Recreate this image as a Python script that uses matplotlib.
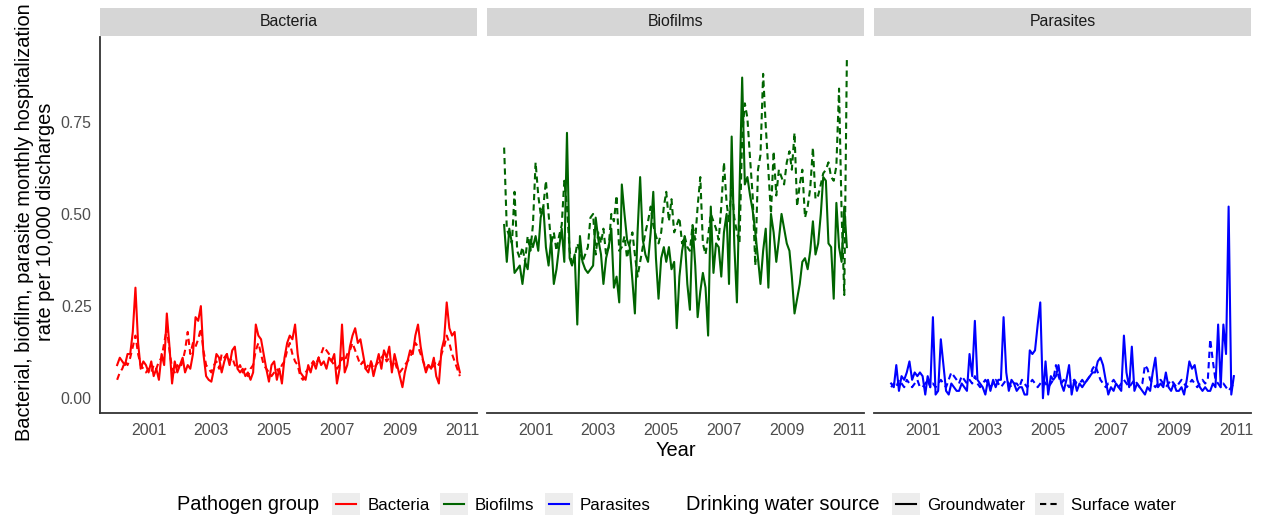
import numpy as np
import pandas as pd
import matplotlib
matplotlib.use("Agg")
from matplotlib import pyplot as plt
import matplotlib.dates as mdates
from matplotlib.lines import Line2D
from matplotlib.patches import Rectangle
from matplotlib.legend_handler import HandlerBase

plt.rcParams['font.family'] = ['Liberation Sans', 'DejaVu Sans']

# monthly rates, Jan 2000 .. Dec 2010 (one row per year)
bacteria_ground = [
    0.09, 0.11, 0.10, 0.09, 0.12, 0.12, 0.18, 0.30, 0.15, 0.08, 0.10, 0.09,
    0.07, 0.10, 0.06, 0.08, 0.05, 0.12, 0.09, 0.23, 0.14, 0.04, 0.10, 0.07,
    0.09, 0.11, 0.07, 0.09, 0.08, 0.12, 0.22, 0.21, 0.25, 0.12, 0.06, 0.05,
    0.045, 0.08, 0.12, 0.11, 0.07, 0.10, 0.12, 0.09, 0.13, 0.14, 0.08, 0.07,
    0.08, 0.06, 0.07, 0.05, 0.07, 0.20, 0.17, 0.16, 0.12, 0.08, 0.045, 0.09,
    0.10, 0.05, 0.08, 0.04, 0.11, 0.15, 0.17, 0.16, 0.20, 0.12, 0.07, 0.06,
    0.05, 0.09, 0.07, 0.10, 0.08, 0.11, 0.09, 0.10, 0.08, 0.11, 0.10, 0.12,
    0.04, 0.08, 0.20, 0.07, 0.09, 0.14, 0.17, 0.19, 0.15, 0.16, 0.12, 0.08,
    0.07, 0.10, 0.06, 0.09, 0.12, 0.08, 0.13, 0.11, 0.14, 0.07, 0.12, 0.09,
    0.06, 0.03, 0.07, 0.10, 0.13, 0.12, 0.17, 0.20, 0.14, 0.10, 0.07, 0.09,
    0.08, 0.11, 0.06, 0.04, 0.13, 0.16, 0.26, 0.19, 0.17, 0.18, 0.10, 0.07]
bacteria_surface = [
    0.05, 0.07, 0.08, 0.10, 0.09, 0.11, 0.14, 0.17, 0.12, 0.09, 0.08, 0.07,
    0.08, 0.07, 0.09, 0.08, 0.10, 0.11, 0.15, 0.19, 0.13, 0.08, 0.07, 0.09,
    0.08, 0.10, 0.13, 0.18, 0.12, 0.15, 0.14, 0.16, 0.19, 0.13, 0.09, 0.08,
    0.07, 0.09, 0.10, 0.08, 0.12, 0.11, 0.12, 0.10, 0.11, 0.09, 0.08, 0.09,
    0.07, 0.08, 0.06, 0.08, 0.09, 0.13, 0.15, 0.12, 0.09, 0.08, 0.07, 0.06,
    0.07, 0.08, 0.07, 0.09, 0.10, 0.13, 0.15, 0.12, 0.10, 0.09, 0.06, 0.05,
    0.07, 0.08, 0.09, 0.10, 0.09, 0.11, 0.12, 0.14, 0.13, 0.12, 0.10, 0.09,
    0.08, 0.09, 0.11, 0.10, 0.12, 0.13, 0.15, 0.13, 0.11, 0.09, 0.10, 0.08,
    0.09, 0.10, 0.08, 0.09, 0.10, 0.11, 0.12, 0.10, 0.11, 0.09, 0.10, 0.08,
    0.07, 0.08, 0.09, 0.10, 0.11, 0.13, 0.15, 0.14, 0.12, 0.10, 0.08, 0.09,
    0.08, 0.09, 0.10, 0.09, 0.12, 0.14, 0.17, 0.15, 0.12, 0.10, 0.08, 0.06]
biofilm_ground = [
    0.47, 0.37, 0.46, 0.42, 0.34, 0.35, 0.36, 0.31, 0.37, 0.35, 0.43, 0.41,
    0.44, 0.40, 0.49, 0.52, 0.41, 0.36, 0.43, 0.31, 0.35, 0.41, 0.46, 0.37,
    0.72, 0.38, 0.36, 0.39, 0.20, 0.44, 0.37, 0.35, 0.34, 0.35, 0.36, 0.49,
    0.43, 0.39, 0.31, 0.38, 0.41, 0.46, 0.30, 0.33, 0.26, 0.58, 0.50, 0.43,
    0.41, 0.32, 0.23, 0.45, 0.60, 0.43, 0.39, 0.37, 0.45, 0.56, 0.38, 0.27,
    0.38, 0.41, 0.37, 0.41, 0.35, 0.37, 0.19, 0.33, 0.40, 0.44, 0.31, 0.24,
    0.47, 0.36, 0.22, 0.29, 0.34, 0.30, 0.17, 0.52, 0.34, 0.42, 0.41, 0.33,
    0.45, 0.50, 0.31, 0.71, 0.42, 0.26, 0.56, 0.87, 0.58, 0.60, 0.55, 0.51,
    0.45, 0.38, 0.31, 0.40, 0.46, 0.30, 0.50, 0.45, 0.37, 0.43, 0.50, 0.46,
    0.42, 0.40, 0.33, 0.23, 0.27, 0.31, 0.37, 0.38, 0.35, 0.40, 0.48, 0.39,
    0.42, 0.50, 0.60, 0.59, 0.42, 0.41, 0.27, 0.53, 0.41, 0.37, 0.52, 0.41]
biofilm_surface = [
    0.68, 0.46, 0.44, 0.42, 0.56, 0.40, 0.38, 0.41, 0.37, 0.44, 0.40, 0.47,
    0.64, 0.55, 0.50, 0.52, 0.59, 0.50, 0.42, 0.45, 0.40, 0.44, 0.47, 0.59,
    0.52, 0.40, 0.36, 0.38, 0.42, 0.40, 0.37, 0.39, 0.41, 0.49, 0.50, 0.39,
    0.45, 0.42, 0.46, 0.39, 0.41, 0.50, 0.48, 0.55, 0.40, 0.41, 0.44, 0.38,
    0.42, 0.45, 0.39, 0.33, 0.37, 0.41, 0.45, 0.48, 0.52, 0.47, 0.44, 0.42,
    0.45, 0.52, 0.56, 0.48, 0.54, 0.45, 0.47, 0.49, 0.42, 0.44, 0.41, 0.40,
    0.47, 0.43, 0.52, 0.60, 0.42, 0.39, 0.44, 0.50, 0.48, 0.46, 0.43, 0.52,
    0.64, 0.53, 0.48, 0.58, 0.49, 0.45, 0.42, 0.71, 0.80, 0.76, 0.65, 0.55,
    0.36, 0.62, 0.66, 0.88, 0.74, 0.62, 0.50, 0.67, 0.55, 0.62, 0.60, 0.58,
    0.64, 0.67, 0.62, 0.72, 0.52, 0.58, 0.62, 0.49, 0.52, 0.57, 0.68, 0.54,
    0.55, 0.58, 0.61, 0.62, 0.64, 0.60, 0.59, 0.63, 0.84, 0.50, 0.28, 0.92]
parasite_ground = [
    0.04, 0.03, 0.09, 0.02, 0.06, 0.05, 0.07, 0.10, 0.05, 0.07, 0.06, 0.07,
    0.06, 0.01, 0.06, 0.03, 0.22, 0.01, 0.02, 0.16, 0.09, 0.02, 0.01, 0.04,
    0.03, 0.02, 0.02, 0.04, 0.03, 0.02, 0.12, 0.06, 0.21, 0.05, 0.04, 0.03,
    0.01, 0.05, 0.02, 0.05, 0.03, 0.05, 0.05, 0.22, 0.07, 0.02, 0.05, 0.04,
    0.02, 0.03, 0.03, 0.01, 0.01, 0.13, 0.12, 0.13, 0.20, 0.26, 0.00, 0.10,
    0.01, 0.06, 0.05, 0.06, 0.09, 0.04, 0.02, 0.05, 0.09, 0.01, 0.05, 0.02,
    0.04, 0.03, 0.04, 0.05, 0.06, 0.07, 0.07, 0.10, 0.11, 0.09, 0.05, 0.01,
    0.03, 0.02, 0.04, 0.03, 0.02, 0.17, 0.07, 0.03, 0.14, 0.02, 0.04, 0.03,
    0.02, 0.01, 0.03, 0.02, 0.07, 0.11, 0.03, 0.04, 0.03, 0.07, 0.03, 0.02,
    0.04, 0.02, 0.02, 0.03, 0.01, 0.05, 0.10, 0.08, 0.09, 0.05, 0.03, 0.02,
    0.03, 0.02, 0.02, 0.04, 0.03, 0.20, 0.03, 0.20, 0.12, 0.52, 0.01, 0.06]
parasite_surface = [
    0.03, 0.04, 0.03, 0.05, 0.04, 0.03, 0.05, 0.04, 0.03, 0.04, 0.05, 0.03,
    0.03, 0.04, 0.05, 0.03, 0.04, 0.03, 0.04, 0.05, 0.04, 0.03, 0.05, 0.07,
    0.06, 0.05, 0.04, 0.06, 0.05, 0.04, 0.05, 0.04, 0.06, 0.04, 0.03, 0.04,
    0.05, 0.04, 0.03, 0.04, 0.05, 0.04, 0.03, 0.04, 0.05, 0.04, 0.03, 0.04,
    0.04, 0.03, 0.05, 0.04, 0.03, 0.04, 0.05, 0.04, 0.03, 0.04, 0.05, 0.04,
    0.03, 0.04, 0.05, 0.09, 0.06, 0.04, 0.05, 0.04, 0.03, 0.04, 0.05, 0.04,
    0.04, 0.05, 0.04, 0.05, 0.06, 0.08, 0.09, 0.07, 0.05, 0.04, 0.03, 0.04,
    0.04, 0.05, 0.04, 0.03, 0.04, 0.05, 0.04, 0.03, 0.04, 0.05, 0.04, 0.03,
    0.04, 0.09, 0.08, 0.05, 0.04, 0.03, 0.04, 0.05, 0.04, 0.03, 0.04, 0.05,
    0.04, 0.03, 0.04, 0.05, 0.04, 0.03, 0.04, 0.05, 0.04, 0.03, 0.04, 0.05,
    0.04, 0.05, 0.16, 0.10, 0.05, 0.04, 0.03, 0.04, 0.03, 0.02, 0.03, 0.04]

groups = ['Bacteria', 'Biofilms', 'Parasites']
colors = ['#FF0000', '#006400', '#0000FF']
sources = ['Groundwater', 'Surface water']
series = {'Bacteria': (bacteria_ground, bacteria_surface),
          'Biofilms': (biofilm_ground, biofilm_surface),
          'Parasites': (parasite_ground, parasite_surface)}
year_ticks = ['2001', '2003', '2005', '2007', '2009', '2011']
y_ticks = [0.0, 0.25, 0.50, 0.75]

dates = pd.date_range('2000-01-01', periods=len(bacteria_ground), freq='MS')
span = dates[-1] - dates[0]
xlim = (dates[0] - 0.05 * span, dates[-1] + 0.05 * span)
tick_dates = pd.to_datetime([y + '-01-01' for y in year_ticks])

W, H = 1266, 520
fig = plt.figure(figsize=(W / 100, H / 100), dpi=100)
dash = (0, (3, 2))
lw = 1.5

panel_left = [100, 487, 874]
panel_w = 377
for i, g in enumerate(groups):
    l = panel_left[i]
    ax = fig.add_axes([l / W, (H - 413) / H, panel_w / W, 376 / H])
    ground, surface = series[g]
    ax.plot(dates, ground, color=colors[i], lw=lw, solid_joinstyle='round')
    ax.plot(dates, surface, color=colors[i], lw=lw, linestyle=dash)
    ax.set_xlim(xlim)
    ax.set_ylim(-0.04, 0.98)
    ax.set_xticks(tick_dates)
    ax.set_xticklabels(year_ticks)
    ax.set_yticks(y_ticks)
    ax.set_yticklabels(['%.2f' % v for v in y_ticks])
    ax.tick_params(length=0, labelsize=11.4, labelcolor='#4d4d4d')
    ax.tick_params(axis='x', pad=7)
    ax.tick_params(axis='y', pad=6)
    for s in ['top', 'right']:
        ax.spines[s].set_visible(False)
    ax.spines['bottom'].set_color('#333333')
    ax.spines['bottom'].set_linewidth(1.3)
    if i == 0:
        ax.spines['left'].set_color('#333333')
        ax.spines['left'].set_linewidth(1.3)
    else:
        ax.spines['left'].set_visible(False)
        ax.tick_params(labelleft=False)

    strip = fig.add_axes([l / W, (H - 36) / H, panel_w / W, 28 / H])
    strip.set_facecolor('#d6d6d6')
    strip.set_xticks([])
    strip.set_yticks([])
    for s in strip.spines.values():
        s.set_visible(False)
    strip.text(0.5, 0.5, g, ha='center', va='center', fontsize=11.4,
               color='#1a1a1a', transform=strip.transAxes)

fig.text(35 / W, 1 - 222 / H,
         'Bacterial, biofilm, parasite monthly hospitalization\nrate per 10,000 discharges',
         rotation=90, ha='center', va='center', multialignment='center',
         fontsize=14.4, linespacing=1.1)
fig.text(675.5 / W, 1 - 451 / H, 'Year', ha='center', va='center', fontsize=14.4)


class KeyHandler(HandlerBase):
    def create_artists(self, legend, orig_handle, xdescent, ydescent,
                       width, height, fontsize, trans):
        box = Rectangle((-xdescent, -ydescent), width, height,
                        facecolor='#ededed', edgecolor='none', transform=trans)
        y = -ydescent + height / 2
        line = Line2D([-xdescent + 0.15 * width, -xdescent + 0.85 * width], [y, y])
        line.update_from(orig_handle)
        line.set_transform(trans)
        return [box, line]


leg_y = 1 - 504 / H
group_handles = [Line2D([], [], color=c, lw=lw) for c in colors]
source_handles = [Line2D([], [], color='black', lw=lw),
                  Line2D([], [], color='black', lw=lw, linestyle=dash)]
fig.text(177 / W, leg_y, 'Pathogen group', ha='left', va='center', fontsize=14.4)
fig.text(686 / W, leg_y, 'Drinking water source', ha='left', va='center', fontsize=14.4)
leg_kw = dict(loc='center left', frameon=False, fontsize=12.2, borderpad=0,
              borderaxespad=0, handlelength=1.66, handleheight=1.66,
              handletextpad=0.42, columnspacing=0.6,
              handler_map={Line2D: KeyHandler()})
fig.legend(group_handles, groups, bbox_to_anchor=(332 / W, leg_y), ncol=3, **leg_kw)
fig.legend(source_handles, sources, bbox_to_anchor=(892 / W, leg_y), ncol=2, **leg_kw)

fig.savefig('out.png', dpi=100)
